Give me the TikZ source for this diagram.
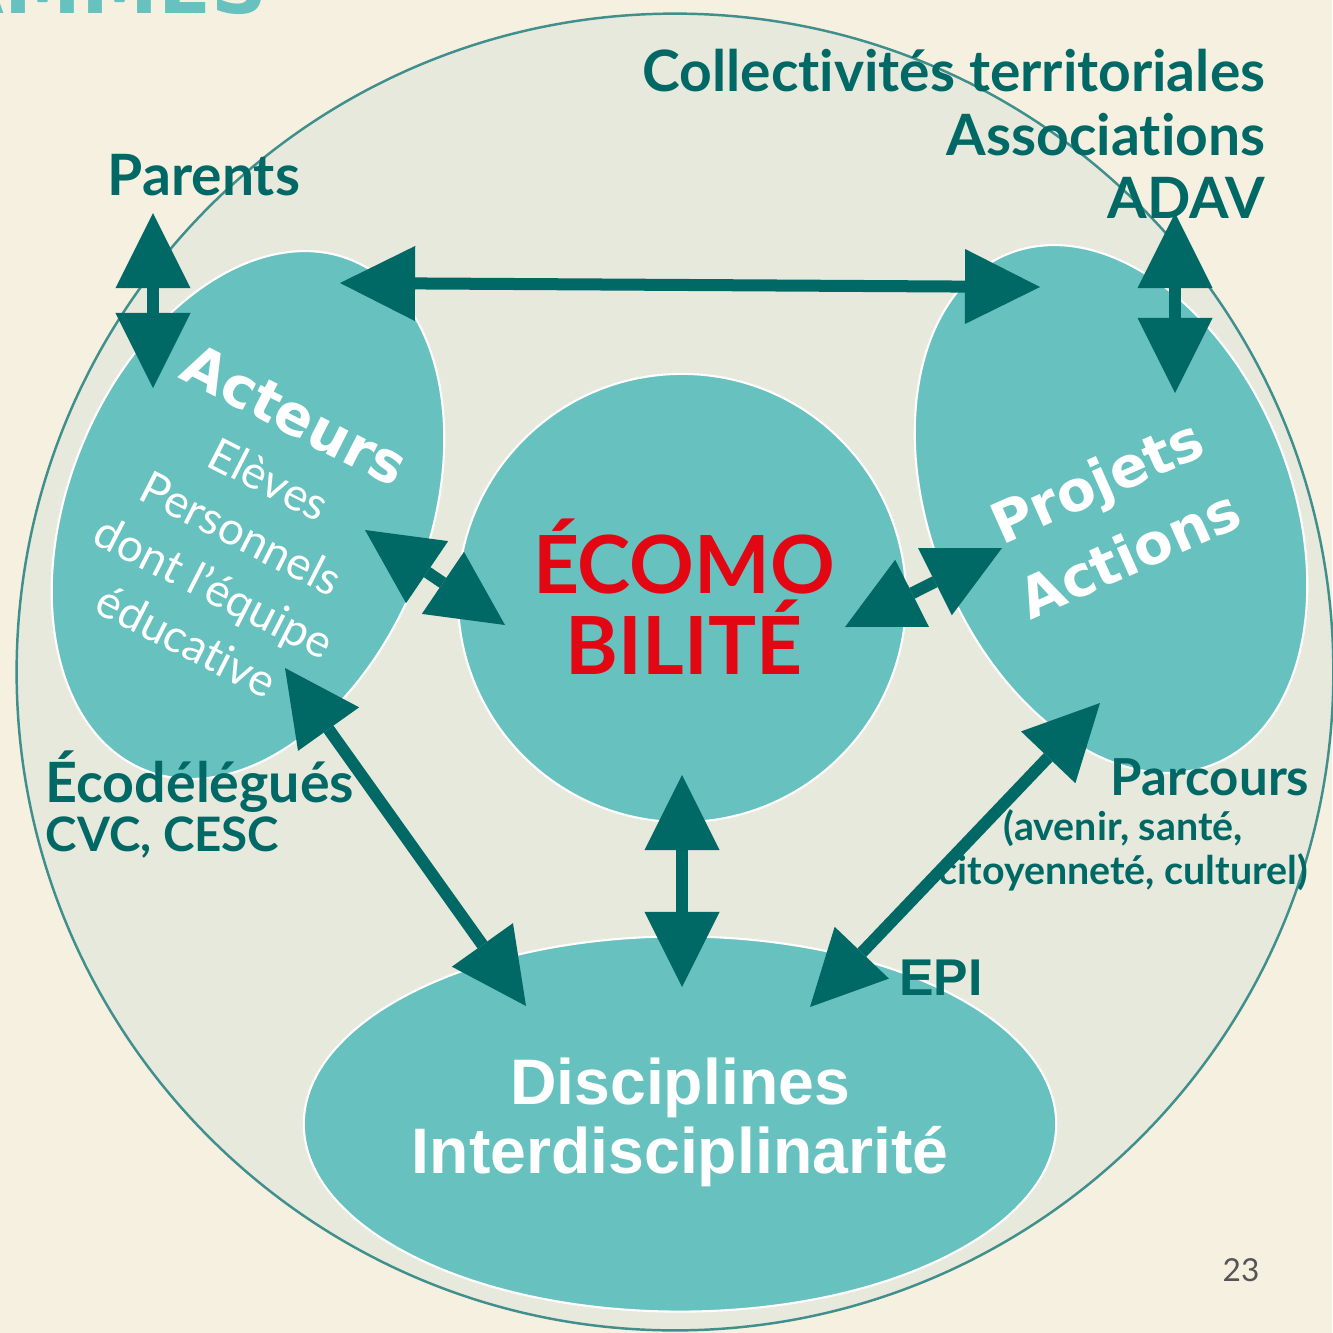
\documentclass[tikz,border=0pt]{standalone}
\usepackage{fontspec}
\setmainfont{Lato}[Ligatures=NoCommon]
\newfontfamily\verd{DejaVu Sans}
\newfontfamily\arial{Liberation Sans}
\usetikzlibrary{arrows.meta,shapes.geometric}
\definecolor{creme}{HTML}{F6F0E0}
\definecolor{fond}{HTML}{E7E9DC}
\definecolor{bleu}{HTML}{67C1BF}
\definecolor{canard}{HTML}{006966}
\definecolor{bord}{HTML}{3F8F8C}
\definecolor{rouge}{HTML}{E30613}
\definecolor{gris}{HTML}{555555}

\begin{document}
\begin{tikzpicture}[
x=0.01cm, y=-0.01cm,
    E/.style = {ellipse, fill=bleu, draw=white, line width=0.6pt,% side ellipses
                minimum width=3.6cm, minimum height=5.5cm},
    L/.style = {text=canard, inner sep=0pt,% dark labels round the circle
                font=\bfseries\fontsize{16.2}{18}\selectfont},
    W/.style = {text=white, inner sep=0pt},% texts in the shapes
    F/.style = {draw=canard, line width=1.2mm, <->,
                >={Triangle[length=7.5mm,width=7.5mm,line width=0pt]}},
                        ]
\fill[creme] (0,0) rectangle (1332,1333);
\useasboundingbox (0,0) rectangle (1332,1333);
\node[text=bleu, font=\verd\bfseries\fontsize{22}{26}\selectfont,
      anchor=base east, inner sep=0pt] (titre) at (268,13) {PROGRAMMES};
% shapes
\node[circle, fill=fond, draw=bord, line width=0.7pt, minimum size=13.16cm] (cad) at (675,672) {};
\node[E, rotate=-22] (act) at (248,515) {};
\node[E, rotate=22] (pro) at (1111,509) {};
\node[circle, fill=bleu, draw=white, line width=0.6pt,
      minimum size=4.48cm, inner sep=0pt] (eco) at (682,598) {};
\node[ellipse, fill=bleu, draw=white, line width=0.6pt, inner sep=0pt,
      minimum width=7.52cm, minimum height=3.75cm] (dis) at (680,1124) {};
% texts
\node[W, font=\verd\bfseries\fontsize{16}{19}\selectfont, rotate=-27] (tact) at (295,415) {Acteurs};
\node[W, font=\fontsize{13}{17.2}\selectfont, align=center, rotate=-27] (tsub) at (228,560)
     {Elèves\\Personnels\\dont l’équipe\\éducative};
\node[W, font=\verd\bfseries\fontsize{16}{22.8}\selectfont, align=center, rotate=24] (tpro) at (1113,517)
     {Projets\\Actions};
\node[text=rouge, inner sep=0pt, font=\bfseries\fontsize{22.8}{23}\selectfont, align=center] (teco) at (684,597)
     {ÉCOMO\\BILITÉ};
\node[W, font=\arial\bfseries\fontsize{18.3}{19.6}\selectfont, align=center] (tdis) at (680,1122)
     {Disciplines\\Interdisciplinarité};
\node[L] (par) at (204,175) {Parents};
\node[L, align=right, anchor=east] (col) at (1266,134) {Collectivités territoriales\\Associations\\ADAV};
\node[L, anchor=west, font=\bfseries\fontsize{15.8}{18}\selectfont] (edl) at (45,782) {Écodélégués};
\node[L, anchor=west, font=\bfseries\fontsize{13.5}{16}\selectfont] (cvc) at (45,838) {CVC, CESC};
\node[L, anchor=east, font=\bfseries\fontsize{14.5}{17}\selectfont] (parc) at (1310,777) {Parcours};
\node[L, anchor=east, align=center, font=\bfseries\fontsize{11.2}{12.5}\selectfont] (pav) at (1309,850)
     {(avenir, santé,\\citoyenneté, culturel)};
\node[L, font=\arial\bfseries\fontsize{14.7}{17}\selectfont] (epi) at (941,978) {EPI};
\node[text=gris, font=\fontsize{9}{11}\selectfont] (num) at (1241,1270) {23};
% arrows
\coordinate (p1) at (153,213);  \coordinate (p2) at (153,388);
\coordinate (h1) at (340,283);  \coordinate (h2) at (1040,287);
\coordinate (d1) at (1175,213); \coordinate (d2) at (1175,393);
\coordinate (a1) at (365,530);  \coordinate (a2) at (505,625);
\coordinate (b1) at (845,627);  \coordinate (b2) at (1002,548);
\coordinate (c1) at (285,668);  \coordinate (c2) at (526,1006);
\coordinate (e1) at (682,775);  \coordinate (e2) at (682,987);
\coordinate (g1) at (1100,703); \coordinate (g2) at (810,1007);
\foreach \u/\v in {p1/p2,h1/h2,d1/d2,a1/a2,b1/b2,c1/c2,e1/e2,g1/g2}
    \draw[F] (\u) -- (\v);
\end{tikzpicture}
\end{document}
